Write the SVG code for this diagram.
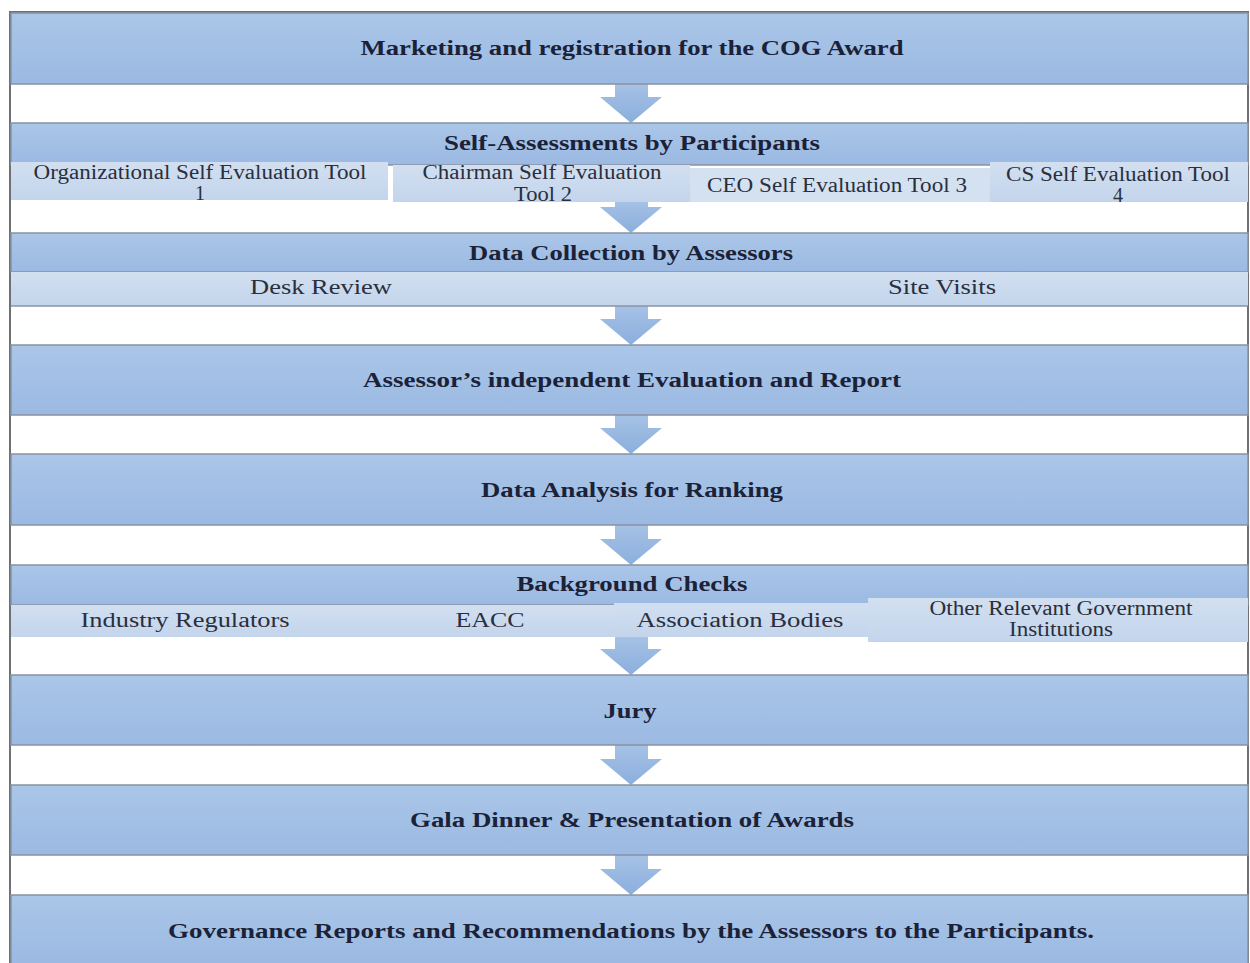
<svg xmlns="http://www.w3.org/2000/svg" width="1250" height="963" viewBox="0 0 1250 963">
<defs>
<linearGradient id="band" x1="0" y1="0" x2="0" y2="1">
<stop offset="0" stop-color="#aac6e8"/>
<stop offset="1" stop-color="#9bb9e2"/>
</linearGradient>
<linearGradient id="sub" x1="0" y1="0" x2="0" y2="1">
<stop offset="0" stop-color="#d2dff0"/>
<stop offset="1" stop-color="#c3d5ec"/>
</linearGradient>
<linearGradient id="arr" x1="0" y1="0" x2="0" y2="1">
<stop offset="0" stop-color="#a6c2e6"/>
<stop offset="1" stop-color="#8aaedc"/>
</linearGradient>
<style>
.band{fill:url(#band);stroke:#8893a3;stroke-width:1.5}
.sub{fill:url(#sub);stroke:none}
.h{font-family:"Liberation Serif","Times New Roman",serif;font-weight:bold;font-size:20px;fill:#1b2238;text-anchor:middle}
.t{font-family:"Liberation Serif","Times New Roman",serif;font-size:20px;fill:#2a2f3d;text-anchor:middle}
.arrow{fill:url(#arr)}
</style>
</defs>
<rect x="0" y="0" width="1250" height="963" fill="#ffffff"/>
<rect x="10" y="12" width="1238" height="960" fill="#ffffff" stroke="#6e7075" stroke-width="2"/>

<g id="connectors">
<path class="arrow" d="M615,84 H648 V97 H662 L631,123 L600,97 H615 Z"/>
<path class="arrow" d="M615,200 H648 V207 H662 L631,233 L600,207 H615 Z"/>
<path class="arrow" d="M615,306 H648 V319 H662 L631,345 L600,319 H615 Z"/>
<path class="arrow" d="M615,415 H648 V428 H662 L631,454 L600,428 H615 Z"/>
<path class="arrow" d="M615,525 H648 V539 H662 L631,565 L600,539 H615 Z"/>
<path class="arrow" d="M615,637 H648 V649 H662 L631,675 L600,649 H615 Z"/>
<path class="arrow" d="M615,745 H648 V759 H662 L631,785 L600,759 H615 Z"/>
<path class="arrow" d="M615,855 H648 V869 H662 L631,895 L600,869 H615 Z"/>
</g>

<g id="n1">
<rect class="band" x="11" y="13" width="1237" height="71"/>
<text class="h" x="632" y="55" textLength="543" lengthAdjust="spacingAndGlyphs">Marketing and registration for the COG Award</text>
</g>

<g id="n2">
<rect class="band" x="11" y="123" width="1237" height="42"/>
<text class="h" x="632" y="150" textLength="376" lengthAdjust="spacingAndGlyphs">Self-Assessments by Participants</text>
</g>
<g id="n2a">
<rect class="sub" x="11" y="162" width="377" height="38"/>
<text class="t" x="200" y="179" textLength="333" lengthAdjust="spacingAndGlyphs">Organizational Self Evaluation Tool</text>
<text class="t" x="200" y="200">1</text>
</g>
<g id="n2b">
<rect class="sub" x="393" y="165" width="297" height="37"/>
<text class="t" x="542" y="179" textLength="239" lengthAdjust="spacingAndGlyphs">Chairman Self Evaluation</text>
<text class="t" x="543" y="201" textLength="58" lengthAdjust="spacingAndGlyphs">Tool 2</text>
</g>
<g id="n2c">
<rect class="sub" x="690" y="168" width="300" height="34" fill="#d6e2f1" style="fill:#d4e1f1"/>
<text class="t" x="837" y="192" textLength="260" lengthAdjust="spacingAndGlyphs">CEO Self Evaluation Tool 3</text>
</g>
<g id="n2d">
<rect class="sub" x="990" y="162" width="258" height="40"/>
<text class="t" x="1118" y="181" textLength="224" lengthAdjust="spacingAndGlyphs">CS Self Evaluation Tool</text>
<text class="t" x="1118" y="202">4</text>
</g>

<g id="n3">
<rect class="band" x="11" y="233" width="1237" height="39"/>
<text class="h" x="631" y="260" textLength="324" lengthAdjust="spacingAndGlyphs">Data Collection by Assessors</text>
</g>
<g id="n3a">
<rect class="sub" x="11" y="272" width="620" height="34"/>
<text class="t" x="321" y="294" textLength="142" lengthAdjust="spacingAndGlyphs">Desk Review</text>
</g>
<g id="n3b">
<rect class="sub" x="631" y="272" width="617" height="34"/>
<text class="t" x="942" y="294" textLength="108" lengthAdjust="spacingAndGlyphs">Site Visits</text>
</g>
<line x1="11" y1="306" x2="1248" y2="306" stroke="#8893a3" stroke-width="1.5"/>

<g id="n4">
<rect class="band" x="11" y="345" width="1237" height="70"/>
<text class="h" x="632" y="387" textLength="538" lengthAdjust="spacingAndGlyphs">Assessor’s independent Evaluation and Report</text>
</g>

<g id="n5">
<rect class="band" x="11" y="454" width="1237" height="71"/>
<text class="h" x="632" y="497" textLength="302" lengthAdjust="spacingAndGlyphs">Data Analysis for Ranking</text>
</g>

<g id="n6">
<rect class="band" x="11" y="565" width="1237" height="40"/>
<text class="h" x="632" y="591" textLength="231" lengthAdjust="spacingAndGlyphs">Background Checks</text>
</g>
<g id="n6a">
<rect class="sub" x="11" y="605" width="356" height="32"/>
<text class="t" x="185" y="627" textLength="209" lengthAdjust="spacingAndGlyphs">Industry Regulators</text>
</g>
<g id="n6b">
<rect class="sub" x="367" y="605" width="247" height="32"/>
<text class="t" x="490" y="627" textLength="69" lengthAdjust="spacingAndGlyphs">EACC</text>
</g>
<g id="n6c">
<rect class="sub" x="614" y="603" width="254" height="34"/>
<text class="t" x="740" y="627" textLength="207" lengthAdjust="spacingAndGlyphs">Association Bodies</text>
</g>
<g id="n6d">
<rect class="sub" x="868" y="598" width="380" height="44"/>
<text class="t" x="1061" y="615" textLength="263" lengthAdjust="spacingAndGlyphs">Other Relevant Government</text>
<text class="t" x="1061" y="636" textLength="104" lengthAdjust="spacingAndGlyphs">Institutions</text>
</g>

<g id="n7">
<rect class="band" x="11" y="675" width="1237" height="70"/>
<text class="h" x="630" y="718" textLength="53" lengthAdjust="spacingAndGlyphs">Jury</text>
</g>

<g id="n8">
<rect class="band" x="11" y="785" width="1237" height="70"/>
<text class="h" x="632" y="827" textLength="444" lengthAdjust="spacingAndGlyphs">Gala Dinner &amp; Presentation of Awards</text>
</g>

<g id="n9">
<rect class="band" x="11" y="895" width="1237" height="70"/>
<text class="h" x="631" y="938" textLength="926" lengthAdjust="spacingAndGlyphs">Governance Reports and Recommendations by the Assessors to the Participants.</text>
</g>
</svg>
